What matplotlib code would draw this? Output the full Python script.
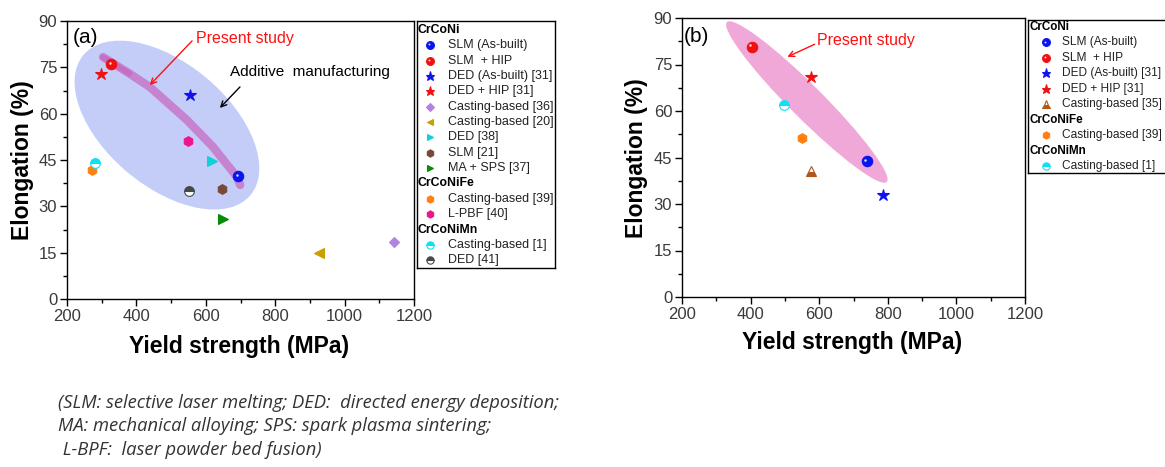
import matplotlib
matplotlib.use("Agg")
import matplotlib.pyplot as plt
from matplotlib.patches import Ellipse
from matplotlib.transforms import ScaledTranslation

plt.rcParams['font.family'] = ['Liberation Sans', 'DejaVu Sans']

# ---------------- data ----------------
group_names = ['CrCoNi', 'CrCoNiFe', 'CrCoNiMn']

a_labels = ['SLM (As-built)', 'SLM  + HIP', 'DED (As-built) [31]', 'DED + HIP [31]',
            'Casting-based [36]', 'Casting-based [20]', 'DED [38]', 'SLM [21]',
            'MA + SPS [37]', 'Casting-based [39]', 'L-PBF [40]',
            'Casting-based [1]', 'DED [41]']
a_groups = [0, 0, 0, 0, 0, 0, 0, 0, 0, 1, 1, 2, 2]
a_strength = [692, 327, 554, 297, 1143, 927, 617, 648, 650, 273, 548, 281, 551]
a_elong = [39.9, 76.1, 65.9, 73.0, 18.5, 14.8, 44.7, 35.6, 25.8, 41.8, 51.2, 43.9, 35.1]

b_labels = ['SLM (As-built)', 'SLM  + HIP', 'DED (As-built) [31]', 'DED + HIP [31]',
            'Casting-based [35]', 'Casting-based [39]', 'Casting-based [1]']
b_groups = [0, 0, 0, 0, 0, 1, 2]
b_strength = [738, 403, 787, 575, 577, 549, 497]
b_elong = [43.8, 80.8, 32.8, 70.9, 40.5, 51.2, 61.8]

x_ticks = [200, 400, 600, 800, 1000, 1200]
y_ticks = [0, 15, 30, 45, 60, 75, 90]

# ---------------- styles ----------------
STY = {
    'SLM (As-built)': dict(marker='o', color='#0a14f0', ms=7.5),
    'SLM  + HIP': dict(marker='o', color='#f01010', ms=7.5),
    'DED (As-built) [31]': dict(marker='*', color='#1010f0', ms=9),
    'DED + HIP [31]': dict(marker='*', color='#f01010', ms=9),
    'Casting-based [36]': dict(marker='D', color='#b283e0', ms=5),
    'Casting-based [20]': dict(marker='<', color='#c9a000', ms=6.5),
    'DED [38]': dict(marker='>', color='#10d0d8', ms=6.5),
    'SLM [21]': dict(marker='h', color='#784838', ms=7),
    'MA + SPS [37]': dict(marker='>', color='#0a8a0a', ms=6.5),
    'Casting-based [39]': dict(marker='h', color='#ff8010', ms=7),
    'L-PBF [40]': dict(marker='h', color='#f0148c', ms=7),
    'Casting-based [1]': dict(marker='o', color='#10e0f0', ms=7, fillstyle='top', mfcalt='white'),
    'DED [41]': dict(marker='o', color='#484848', ms=7, fillstyle='top', mfcalt='white'),
    'Casting-based [35]': dict(marker='^', color='#b0581a', ms=7, fillstyle='bottom', mfcalt='white'),
}


def mk(label, ax, x, y, scale=1.0, **extra):
    s = STY[label]
    kw = dict(marker=s['marker'], linestyle='none', color=s['color'],
              markersize=s['ms'] * scale, markeredgecolor=s['color'], markeredgewidth=0.8)
    if 'fillstyle' in s:
        kw['fillstyle'] = s['fillstyle']
        kw['markerfacecoloralt'] = s['mfcalt']
    kw.update(extra)
    out = ax.plot(x, y, **kw)
    if s['marker'] == 'o' and 'fillstyle' not in s:
        # glossy highlight
        ax.plot(x, y, marker='o', linestyle='none', color='white', alpha=0.85,
                markersize=1.8 * scale, markeredgewidth=0,
                transform=ax.transData + ScaledTranslation(-0.012 * scale, 0.012 * scale, fig.dpi_scale_trans),
                zorder=extra.get('zorder', 2) + 0.1, clip_on=extra.get('clip_on', True))
    return out


W, H = 1165, 467
fig = plt.figure(figsize=(W / 100, H / 100), dpi=100)


def px_axes(l, r, t, b):
    return fig.add_axes([l / W, 1 - b / H, (r - l) / W, (b - t) / H])


def style_axes(ax):
    ax.set_xlim(200, 1200)
    ax.set_ylim(0, 90)
    ax.set_xticks(x_ticks)
    ax.set_yticks(y_ticks)
    ax.set_xticks([300, 500, 700, 900, 1100], minor=True)
    ax.set_yticks([7.5, 22.5, 37.5, 52.5, 67.5, 82.5], minor=True)
    ax.tick_params(which='major', direction='out', length=5, width=1,
                   labelsize=12, labelcolor='#3a3a3a', pad=2)
    ax.tick_params(which='minor', direction='out', length=3, width=1)
    ax.tick_params(top=False, right=False)
    for sp in ax.spines.values():
        sp.set_linewidth(1.0)
    ax.set_xlabel('Yield strength (MPa)', fontsize=16.5, fontweight='bold')
    ax.set_ylabel('Elongation (%)', fontsize=16.5, fontweight='bold')
    ax.xaxis.label.set_va('center')
    ax.yaxis.label.set_va('center')


def px_ellipse(ax, cx, cy, a_px, b_px, angle, **kw):
    tr = fig.dpi_scale_trans + ScaledTranslation(cx, cy, ax.transData)
    e = Ellipse((0, 0), 2 * a_px / 100, 2 * b_px / 100, angle=angle,
                transform=tr, **kw)
    ax.add_patch(e)


# ---------------- panel (a) ----------------
axA = px_axes(67, 414, 21, 299)
style_axes(axA)
axA.xaxis.set_label_coords((239 - 67) / 347, (299 - 347) / 278)
axA.yaxis.set_label_coords((23 - 67) / 347, (299 - 160) / 278)

px_ellipse(axA, 488, 56.3, 109, 61.5, -40, facecolor='#c3cdf8', edgecolor='none', zorder=1)
band_x = [304, 380, 439, 546, 621, 690, 699]
band_y = [78.3, 73.0, 68.6, 57.9, 49.2, 39.5, 36.9]
axA.plot(band_x, band_y, color='#c864c0', alpha=0.7, lw=6, solid_capstyle='round', zorder=2)
axA.plot(band_x[:2], band_y[:2], color='#c864c0', alpha=0.7, lw=4, solid_capstyle='round', zorder=2)

for i, lab in enumerate(a_labels):
    mk(lab, axA, a_strength[i], a_elong[i], zorder=5)

axA.text(0.017, 0.939, '(a)', transform=axA.transAxes, fontsize=15, va='center', ha='left')
axA.text(572, 84.2, 'Present study', color='#ff1010', fontsize=11.5, va='center', ha='left')
axA.annotate('', xy=(433, 68.6), xytext=(566, 84.2),
             arrowprops=dict(arrowstyle='->', color='#ff1010', lw=1.0))
axA.text(670, 73.5, 'Additive  manufacturing', color='black', fontsize=11, va='center', ha='left')
axA.annotate('', xy=(635, 61.2), xytext=(704, 69.3),
             arrowprops=dict(arrowstyle='->', color='black', lw=1.0))

# ---------------- panel (b) ----------------
axB = px_axes(682, 1025, 18, 297)
style_axes(axB)
axB.xaxis.set_label_coords((852 - 682) / 343, (297 - 343) / 279)
axB.yaxis.set_label_coords((636 - 682) / 343, (297 - 158) / 279)

px_ellipse(axB, 564, 62.9, 113, 16.5, -45, facecolor='#f0a8d8', edgecolor='none', zorder=1)
for i, lab in enumerate(b_labels):
    mk(lab, axB, b_strength[i], b_elong[i], zorder=5)

axB.text(0.005, 0.932, '(b)', transform=axB.transAxes, fontsize=15, va='center', ha='left')
axB.text(594, 82.6, 'Present study', color='#ff1010', fontsize=11.5, va='center', ha='left')
axB.annotate('', xy=(500, 77.1), xytext=(594, 81.9),
             arrowprops=dict(arrowstyle='->', color='#ff1010', lw=1.0))


# ---------------- legends ----------------
def draw_legend(l, r, t, b, labels, groups, row0, dy, head_x, mark_x, text_x, fs):
    lw_ = r - l
    lh = b - t
    lg = px_axes(l, r, t, b)
    lg.set_xlim(0, lw_)
    lg.set_ylim(lh, 0)
    lg.set_xticks([])
    lg.set_yticks([])
    for sp in lg.spines.values():
        sp.set_linewidth(1.0)
    row = 0
    last_g = -1
    for lab, g in zip(labels, groups):
        if g != last_g:
            lg.text(head_x, row0 + row * dy, group_names[g], fontsize=fs - 0.2,
                    fontweight='bold', va='center', ha='left')
            row += 1
            last_g = g
        y = row0 + row * dy
        mk(lab, lg, mark_x, y, scale=0.75, clip_on=False, zorder=3)
        lg.text(text_x, y, lab, fontsize=fs, va='center', ha='left', color='#222222')
        row += 1


draw_legend(417, 555, 21, 268, a_labels, a_groups, row0=9, dy=15.35,
            head_x=1, mark_x=13, text_x=31, fs=9)
draw_legend(1028, 1200, 20, 173, b_labels, b_groups, row0=7, dy=15.45,
            head_x=2, mark_x=18, text_x=34, fs=8.6)

# ---------------- footnote ----------------
foot = ('(SLM: selective laser melting; DED:  directed energy deposition;\n'
        'MA: mechanical alloying; SPS: spark plasma sintering;\n'
        ' L-BPF:  laser powder bed fusion)')
fig.text(58 / W, 1 - 394 / H, foot, fontsize=13.2, style='italic', family='Open Sans',
         va='top', ha='left', color='#333333', linespacing=1.38)

fig.savefig('out.png', dpi=100)
